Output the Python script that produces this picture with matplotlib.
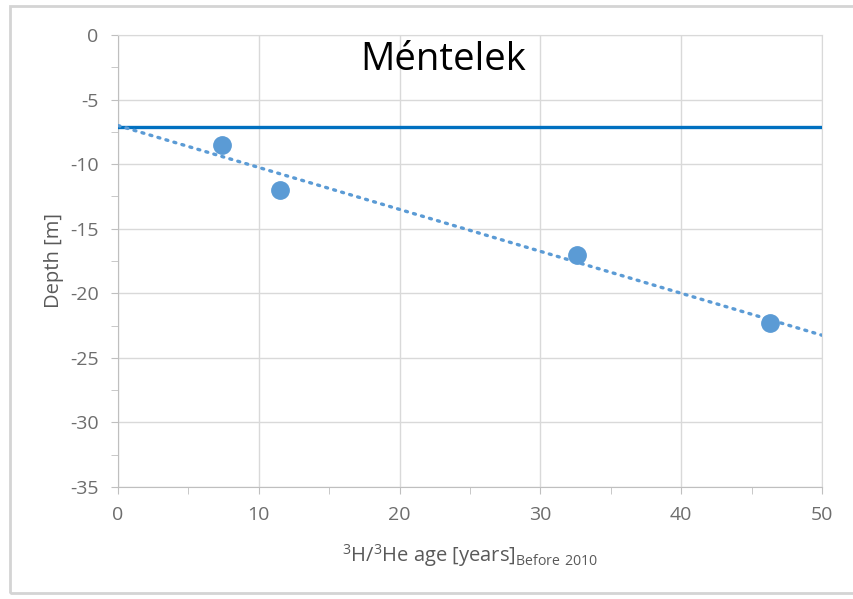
import numpy as np
import matplotlib.pyplot as plt
from matplotlib import font_manager
from matplotlib.patches import Rectangle
from matplotlib.ticker import MultipleLocator

# groundwater ages and sampling depths at Méntelek
site = "Méntelek"
age_years = [7.4, 11.5, 32.6, 46.3]
depth_m = [-8.5, -12.0, -17.0, -22.3]
water_table_m = -7.1

plt.rcParams['font.family'] = ['Open Sans', 'DejaVu Sans']
plt.rcParams['mathtext.default'] = 'regular'
plt.rcParams['axes.unicode_minus'] = False

# narrow face for the tick numbers when it is installed
installed = {f.name for f in font_manager.fontManager.ttflist}
tick_font = 'Liberation Sans Narrow' if 'Liberation Sans Narrow' in installed else 'Open Sans'

fig = plt.figure(figsize=(8.54, 5.99), dpi=100)
ax = fig.add_axes([118 / 854, 1 - 487 / 599, 704 / 854, 452 / 599])

# chart frame
fig.patches.append(Rectangle((10 / 854, 6 / 599), 1.0, 587 / 599,
                             transform=fig.transFigure, fill=False,
                             edgecolor='#d4d4d4', linewidth=2))

ax.axhline(water_table_m, color='#0070c0', linewidth=2.4, zorder=3)

# linear trend through the samples
slope, intercept = np.polyfit(age_years, depth_m, 1)
xs = np.array([0, 50])
ax.plot(xs, slope * xs + intercept, linestyle=(0, (0.6, 1.9)),
        color='#5b9bd5', linewidth=2.4, dash_capstyle='round', zorder=3)

ax.plot(age_years, depth_m, 'o', color='#5b9bd5', markersize=12.5, zorder=4)

ax.set_xlim(0, 50)
ax.set_ylim(-35, 0)
ax.xaxis.set_major_locator(MultipleLocator(10))
ax.xaxis.set_minor_locator(MultipleLocator(5))
ax.yaxis.set_major_locator(MultipleLocator(5))
ax.yaxis.set_minor_locator(MultipleLocator(2.5))
ax.grid(True, which='major', color='#d9d9d9', linewidth=1)
ax.set_axisbelow(True)
for s in ax.spines.values():
    s.set_color('#d9d9d9')
ax.spines['left'].set_color('#bfbfbf')
ax.spines['bottom'].set_color('#bfbfbf')
ax.tick_params(which='both', color='#bfbfbf', length=5, direction='out',
               labelcolor='#6d6d6d', labelsize=14)
ax.tick_params(axis='x', pad=9)
ax.tick_params(axis='y', pad=9)
for lab in ax.get_xticklabels() + ax.get_yticklabels():
    lab.set_fontfamily(tick_font)

ax.text(0.462, 0.945, site, transform=ax.transAxes, ha='center', va='center',
        fontsize=27.5, color='black')

ax.set_ylabel('Depth [m]', color='#595959', fontsize=14.5, labelpad=4)
ax.set_xlabel(r'$^3$H/$^3$He age [years]$_{Before\ 2010}$', color='#595959',
              fontsize=14.5, labelpad=13)

fig.savefig('out.png', dpi=100)
